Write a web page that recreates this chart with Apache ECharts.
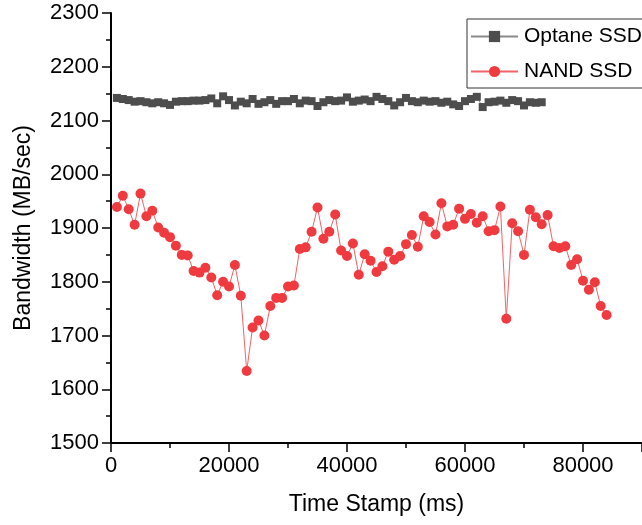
<!DOCTYPE html>
<html>
<head>
<meta charset="utf-8">
<script src="https://cdn.jsdelivr.net/npm/echarts@6/dist/echarts.min.js"></script>
<style>
html,body{margin:0;padding:0;background:#fff;}
#chart{width:642px;height:525px;}
</style>
</head>
<body>
<div id="chart"></div>
<script>
// Data (x in ms, y in MB/sec)
var optaneTimes = [];
for (var t = 1; t <= 73; t++) optaneTimes.push(t * 1000);
var optaneValues = [2142,2140,2138,2135,2136,2134,2132,2134,2132,2129,
  2135,2136,2136,2137,2137,2138,2141,2132,2145,2138,
  2128,2135,2132,2140,2131,2134,2138,2131,2136,2136,
  2140,2132,2137,2136,2127,2134,2138,2136,2137,2143,
  2135,2137,2139,2136,2144,2140,2136,2128,2134,2142,
  2136,2134,2137,2135,2136,2133,2135,2130,2127,2136,
  2140,2144,2125,2134,2135,2137,2133,2138,2136,2128,
  2134,2133,2134];
var nandTimes = [];
for (var u = 1; u <= 84; u++) nandTimes.push(u * 1000);
var nandValues = [1939,1960,1935,1906,1964,1922,1932,1901,1891,1883,
  1867,1850,1849,1820,1817,1826,1808,1775,1800,1791,
  1831,1774,1634,1715,1728,1700,1755,1770,1770,1791,
  1793,1861,1864,1893,1938,1880,1893,1925,1858,1848,
  1871,1813,1851,1839,1818,1829,1856,1841,1848,1870,
  1887,1865,1922,1911,1888,1946,1903,1906,1936,1917,
  1926,1910,1922,1894,1896,1940,1731,1909,1894,1850,
  1934,1920,1907,1924,1866,1863,1866,1831,1842,1802,
  1785,1799,1755,1738];
var seriesNames = ['Optane SSD', 'NAND SSD'];
var xTitle = 'Time Stamp (ms)';
var yTitle = 'Bandwidth (MB/sec)';

function pairs(xs, ys) { return xs.map(function (x, i) { return [x, ys[i]]; }); }
function plain(v) { return String(v); }

var FONT = '"Liberation Sans", Arial, sans-serif';
var chart = echarts.init(document.getElementById('chart'), null, {renderer: 'canvas'});
chart.setOption({
  animation: false,
  backgroundColor: '#ffffff',
  grid: {left: 111, top: 13, width: 533, height: 430, containLabel: false},
  legend: {
    orient: 'vertical',
    left: 467, top: 19,
    data: seriesNames,
    itemWidth: 47, itemHeight: 14, itemGap: 14,
    padding: [7, 12, 6, 3],
    borderColor: '#333', borderWidth: 1,
    textStyle: {fontFamily: FONT, fontSize: 21, color: '#000', padding: [0, 0, 0, 1]}
  },
  xAxis: {
    type: 'value', min: 0, max: 90000, interval: 20000,
    name: xTitle, nameLocation: 'middle', nameGap: 50,
    nameTextStyle: {fontFamily: FONT, fontSize: 23, color: '#000'},
    axisLine: {show: true, onZero: false, lineStyle: {color: '#000', width: 2}},
    axisTick: {show: true, inside: false, length: 9, lineStyle: {color: '#000', width: 1.5}},
    minorTick: {show: true, splitNumber: 2, length: 5, lineStyle: {color: '#000', width: 1.5}},
    axisLabel: {fontFamily: FONT, fontSize: 22, color: '#000', margin: 12, showMaxLabel: false, formatter: plain},
    splitLine: {show: false}
  },
  yAxis: {
    type: 'value', min: 1500, max: 2300, interval: 100,
    name: yTitle, nameLocation: 'middle', nameGap: 76,
    nameTextStyle: {fontFamily: FONT, fontSize: 23, color: '#000'},
    axisLine: {show: true, onZero: false, lineStyle: {color: '#000', width: 2}},
    axisTick: {show: true, inside: false, length: 9, lineStyle: {color: '#000', width: 1.5}},
    minorTick: {show: true, splitNumber: 2, length: 5, lineStyle: {color: '#000', width: 1.5}},
    axisLabel: {fontFamily: FONT, fontSize: 22, color: '#000', margin: 12, formatter: plain},
    splitLine: {show: false}
  },
  series: [
    {
      name: seriesNames[0], type: 'line',
      data: pairs(optaneTimes, optaneValues),
      symbol: 'rect', symbolSize: 8, showAllSymbol: true,
      itemStyle: {color: '#4d4d4d'},
      lineStyle: {color: '#8a8a8a', width: 1}
    },
    {
      name: seriesNames[1], type: 'line',
      data: pairs(nandTimes, nandValues),
      symbol: 'circle', symbolSize: 10, showAllSymbol: true,
      itemStyle: {color: '#ef3b3f'},
      lineStyle: {color: '#f26266', width: 1}
    }
  ]
});
</script>
</body>
</html>
